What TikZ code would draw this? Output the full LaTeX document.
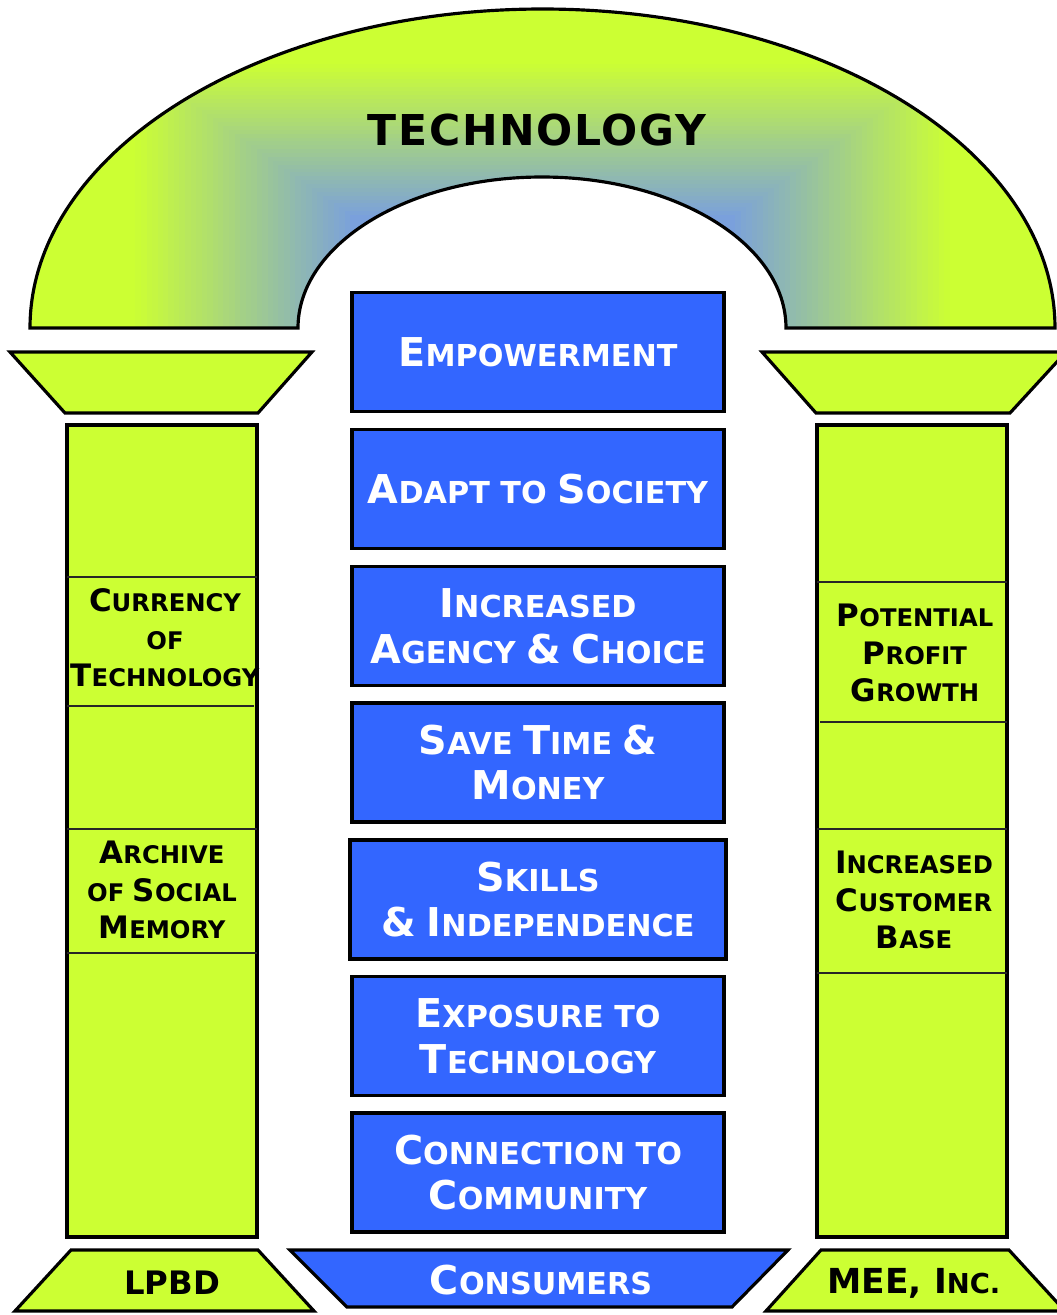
\documentclass[tikz,border=0pt]{standalone}
\usepackage{fontspec}
\setmainfont{DejaVu Sans}

\definecolor{limegreen}{HTML}{CCFF33}
\definecolor{valueblue}{HTML}{3366FF}
\definecolor{archblue}{HTML}{7AA0DC}

% big first letters for the fake small caps
\newcommand{\bigB}[1]{{\fontsize{11.3}{13}\selectfont #1}}
\newcommand{\bigS}[1]{{\fontsize{8.8}{10.7}\selectfont #1}}

\begin{document}
\begin{tikzpicture}[scale=0.1,
  outline/.style={draw=black, line width=0.9pt},
  divider/.style={draw=black!85, line width=0.5pt},
  valbox/.style={outline, fill=valueblue, text=white, minimum width=3.72cm, minimum height=1.19cm, align=center, font=\fontsize{8.6}{13}\selectfont\bfseries},
  colnote/.style={align=center, font=\fontsize{6.9}{10.7}\selectfont\bfseries},
  basetext/.style={font=\fontsize{9.2}{11}\selectfont\bfseries}]
		\tikzstyle{every node}+=[inner sep=0pt]
		\useasboundingbox (0,0) rectangle (105.7,-131.5);
		% the arch
		\begin{scope}
		\clip (3.0,-32.8) arc[start angle=180,end angle=0,x radius=51.25,y radius=31.9] -- (78.6,-32.8) arc[start angle=0,end angle=180,x radius=24.4,y radius=15.1] -- cycle;
		\fill [limegreen] (0,0) rectangle (105.7,-34);
		\foreach \k in {0,...,40} {
			\pgfmathsetmacro\t{\k/40}
			\pgfmathtruncatemacro\p{100*\t}
			\fill [archblue!\p!limegreen] (13.0+22*\t,-6.0-15.5*\t) rectangle (95.5-22*\t,-34);
		}
		\end{scope}
		\draw [outline] (3.0,-32.8) arc[start angle=180,end angle=0,x radius=51.25,y radius=31.9] -- (78.6,-32.8) arc[start angle=0,end angle=180,x radius=24.4,y radius=15.1] -- cycle;
		\node [font=\fontsize{12.1}{14}\selectfont\bfseries\addfontfeature{LetterSpace=4}] (techlabel) at (53.7,-13.0) {TECHNOLOGY};
		% capitals
		\draw [outline, fill=limegreen] (1.0,-35.2) -- (31.2,-35.2) -- (25.8,-41.3) -- (6.5,-41.3) -- cycle;
		\draw [outline, fill=limegreen] (76.2,-35.2) -- (106.6,-35.2) -- (101.0,-41.3) -- (81.6,-41.3) -- cycle;
		% shafts
		\draw [outline, fill=limegreen] (6.7,-42.5) rectangle (25.7,-123.7);
		\draw [outline, fill=limegreen] (81.7,-42.5) rectangle (100.7,-123.7);
		\draw [divider] (6.7,-57.7) -- (25.7,-57.7);
		\draw [divider] (6.7,-70.6) -- (25.4,-70.6);
		\draw [divider] (6.7,-82.9) -- (25.7,-82.9);
		\draw [divider] (6.7,-95.3) -- (25.7,-95.3);
		\draw [divider] (81.7,-58.2) -- (100.7,-58.2);
		\draw [divider] (82.0,-72.2) -- (100.7,-72.2);
		\draw [divider] (81.7,-82.9) -- (100.7,-82.9);
		\draw [divider] (81.7,-97.3) -- (100.7,-97.3);
		\node [colnote] (currency) at (16.5,-63.8) {\bigS{C}URRENCY\\OF\\\bigS{T}ECHNOLOGY};
		\node [colnote] (archive) at (16.2,-89.0) {\bigS{A}RCHIVE\\OF \bigS{S}OCIAL\\\bigS{M}EMORY};
		\node [colnote] (profit) at (91.5,-65.3) {\bigS{P}OTENTIAL\\\bigS{P}ROFIT\\\bigS{G}ROWTH};
		\node [colnote] (customers) at (91.4,-90.0) {\bigS{I}NCREASED\\\bigS{C}USTOMER\\\bigS{B}ASE};
		% the values
		\node [valbox] (empower) at (53.8,-35.2) {\bigB{E}MPOWERMENT};
		\node [valbox] (adapt) at (53.8,-48.9) {\bigB{A}DAPT TO \bigB{S}OCIETY};
		\node [valbox] (agency) at (53.8,-62.6) {\bigB{I}NCREASED\\\bigB{A}GENCY \bigB{\&} \bigB{C}HOICE};
		\node [valbox] (savetime) at (53.8,-76.25) {\bigB{S}AVE \bigB{T}IME \bigB{\&}\\\bigB{M}ONEY};
		\node [valbox, minimum width=3.76cm] (skills) at (53.8,-89.95) {\bigB{S}KILLS\\\bigB{\&} \bigB{I}NDEPENDENCE};
		\node [valbox] (exposure) at (53.8,-103.6) {\bigB{E}XPOSURE TO\\\bigB{T}ECHNOLOGY};
		\node [valbox] (connect) at (53.8,-117.25) {\bigB{C}ONNECTION TO\\\bigB{C}OMMUNITY};
		% bases
		\draw [outline, fill=limegreen] (7.1,-125.0) -- (25.8,-125.0) -- (31.4,-131.1) -- (1.5,-131.1) -- cycle;
		\node [basetext] (lpbd) at (17.2,-128.3) {LPBD};
		\draw [outline, fill=valueblue] (29.0,-125.0) -- (78.8,-125.0) -- (73.2,-130.7) -- (34.7,-130.7) -- cycle;
		\node [text=white, font=\fontsize{8.6}{13}\selectfont\bfseries] (consumers) at (54.1,-128.0) {\bigB{C}ONSUMERS};
		\draw [outline, fill=limegreen] (82.1,-125.0) -- (100.9,-125.0) -- (106.5,-131.1) -- (76.6,-131.1) -- cycle;
		\node [basetext, font=\fontsize{9.8}{11}\selectfont\bfseries] (mee) at (91.4,-128.3) {MEE, I{\fontsize{7.8}{11}\selectfont NC.}};
\end{tikzpicture}
\end{document}
